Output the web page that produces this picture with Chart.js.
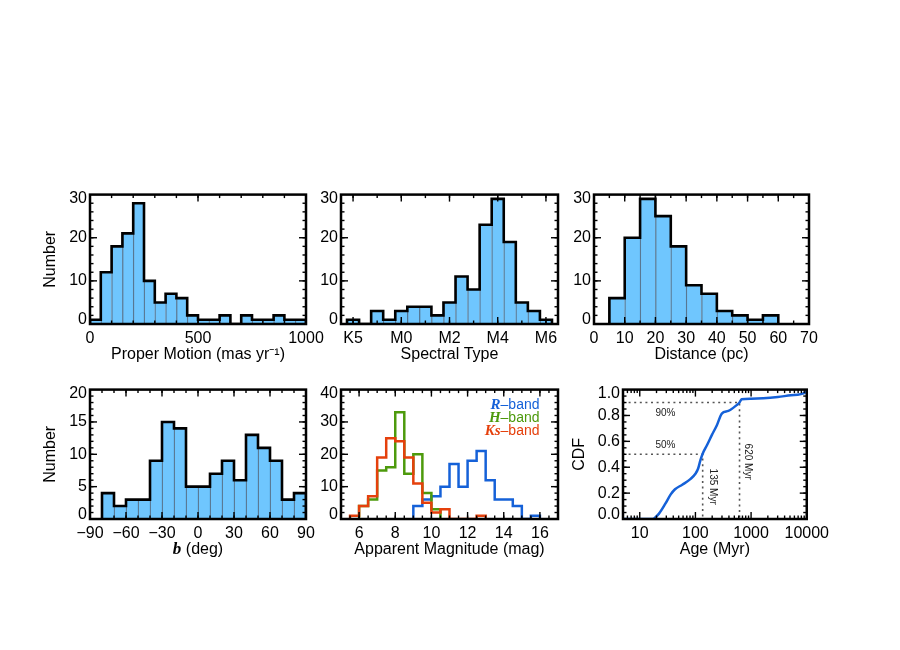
<!DOCTYPE html>
<html>
<head>
<meta charset="utf-8">
<script src="https://cdn.jsdelivr.net/npm/chart.js@4.4.1/dist/chart.umd.min.js"></script>
<style>
  body { margin: 0; background: #fff; width: 900px; height: 650px; position: relative; overflow: hidden; }
  canvas { position: absolute; }
</style>
</head>
<body>
<canvas id="pm"></canvas>
<canvas id="spt"></canvas>
<canvas id="dist"></canvas>
<canvas id="gal"></canvas>
<canvas id="mag"></canvas>
<canvas id="age"></canvas>
<script>
const SANS = "'Liberation Sans', Arial, Helvetica, sans-serif";
const SERIF = "'Liberation Serif', 'Times New Roman', serif";
const FILL = '#6fc6fe';
const DIVIDER = 'rgba(35,75,110,0.75)';
const BLUE = '#1561d8', GREEN = '#4d9a0c', RED = '#e5400c';

// proper motion histogram (bin left edges, 50 mas/yr wide)
const pmBins = [0, 50, 100, 150, 200, 250, 300, 350, 400, 450, 500, 550, 600, 650, 700, 750, 800, 850, 900, 950];
const pmCounts = [1, 12, 18, 21, 28, 10, 5, 7, 6, 2, 1, 1, 2, 0, 2, 1, 1, 2, 1, 1];
const pmTicks = [0, 500, 1000];
const pmTickLabels = ['0', '500', '1000'];

// spectral type (M0 = 0, half-subtype bins)
const sptBins = [-2.25, -1.75, -1.25, -0.75, -0.25, 0.25, 0.75, 1.25, 1.75, 2.25, 2.75, 3.25, 3.75, 4.25, 4.75, 5.25, 5.75];
const sptCounts = [1, 0, 3, 1, 3, 4, 4, 2, 5, 11, 8, 23, 29, 19, 5, 3, 1];
const sptTicks = [-2, 0, 2, 4, 6];
const sptTickLabels = ['K5', 'M0', 'M2', 'M4', 'M6'];

// distance (pc)
const distBins = [0, 5, 10, 15, 20, 25, 30, 35, 40, 45, 50, 55, 60, 65];
const distCounts = [0, 6, 20, 29, 25, 18, 9, 7, 3, 2, 1, 2, 0, 0];
const distTicks = [0, 10, 20, 30, 40, 50, 60, 70];
const distTickLabels = ['0', '10', '20', '30', '40', '50', '60', '70'];

// galactic latitude b (deg)
const bBins = [-90, -80, -70, -60, -50, -40, -30, -20, -10, 0, 10, 20, 30, 40, 50, 60, 70, 80];
const bCounts = [0, 4, 2, 3, 3, 9, 15, 14, 5, 5, 7, 9, 6, 13, 11, 9, 3, 4];
const bTicks = [-90, -60, -30, 0, 30, 60, 90];
const bTickLabels = ['\u221290', '\u221260', '\u221230', '0', '30', '60', '90'];

// apparent magnitudes
const magBins = [5, 5.5, 6, 6.5, 7, 7.5, 8, 8.5, 9, 9.5, 10, 10.5, 11, 11.5, 12, 12.5, 13, 13.5, 14, 14.5, 15, 15.5, 16, 16.5];
const rCounts = [0, 0, 0, 0, 0, 0, 0, 0, 4, 6, 7, 10, 17, 10, 18, 21, 12, 6, 6, 4, 0, 1, 0, 0];
const hCounts = [0, 0, 4, 6, 15, 16, 33, 14, 20, 8, 3, 0, 0, 0, 0, 0, 0, 0, 0, 0, 0, 0, 0, 0];
const ksCounts = [0, 1, 4, 7, 19, 25, 24, 19, 11, 5, 2, 3, 0, 0, 0, 1, 0, 0, 0, 0, 0, 0, 0, 0];
const bandNames = ['R', 'H', 'Ks'];
const magTicks = [6, 8, 10, 12, 14, 16];
const magTickLabels = ['6', '8', '10', '12', '14', '16'];

// age CDF
const ageMyr = [5, 17, 22, 29, 36, 43, 58, 82, 100, 112, 123, 135, 161, 198, 243, 298, 391, 550, 620, 675, 1014, 3020, 5200, 9600, 10000];
const cdfVals = [0, 0, 0.04, 0.12, 0.19, 0.23, 0.265, 0.31, 0.35, 0.39, 0.455, 0.505, 0.57, 0.65, 0.725, 0.815, 0.835, 0.88, 0.9, 0.925, 0.93, 0.943, 0.956, 0.98, 0.995];
const pctLevels = [0.5, 0.9];
const pctAges = [135, 620];
const pctLabels = ['50%', '90%'];
const ageLabels = ['135 Myr', '620 Myr'];
const ageTicks = [10, 100, 1000, 10000];
const ageTickLabels = ['10', '100', '1000', '10000'];
const cdfTicks = [0, 0.2, 0.4, 0.6, 0.8, 1.0];
const cdfTickLabels = ['0.0', '0.2', '0.4', '0.6', '0.8', '1.0'];

const n30Ticks = [0, 10, 20, 30];
const n30Labels = ['0', '10', '20', '30'];

function steps(min, max, step) {
  const out = [];
  for (let v = Math.ceil(min / step - 1e-9) * step; v <= max + 1e-9; v += step) out.push(+v.toFixed(6));
  return out;
}
function logMinors(lo, hi) {
  const out = [];
  for (let d = 1; d < hi; d *= 10) for (let k = 2; k <= 9; k++) if (k * d >= lo && k * d <= hi) out.push(k * d);
  return out;
}

function outline(lefts, width, counts) {
  let a = counts.findIndex(c => c > 0), b = counts.length - 1;
  while (b > 0 && counts[b] === 0) b--;
  const pts = [{x: lefts[a], y: 0}];
  for (let i = a; i <= b; i++) pts.push({x: lefts[i], y: counts[i]}, {x: lefts[i] + width, y: counts[i]});
  pts.push({x: lefts[b] + width, y: 0});
  return pts;
}

function stepLine(data, color, width, order) {
  return {type: 'line', data, borderColor: color, borderWidth: width, pointRadius: 0, tension: 0,
          fill: false, order, borderJoinStyle: 'miter', borderCapStyle: 'butt'};
}

function histDatasets(lefts, width, counts) {
  const bars = lefts.map((l, i) => ({x: l + width / 2, y: counts[i]}));
  return [
    stepLine(outline(lefts, width, counts), '#000', 2.6, 0),
    {type: 'bar', data: bars, backgroundColor: FILL, borderColor: DIVIDER,
     borderWidth: {left: 1.3, right: 0, top: 0, bottom: 0}, borderSkipped: false,
     barPercentage: 1, categoryPercentage: 1, order: 1}
  ];
}

function richText(ctx, parts, x, y, align) {
  let total = 0;
  parts.forEach(p => { ctx.font = p.font; p.w = ctx.measureText(p.text).width; total += p.w; });
  let cx = align === 'right' ? x - total : align === 'center' ? x - total / 2 : x;
  ctx.textAlign = 'left';
  ctx.textBaseline = 'middle';
  parts.forEach(p => { ctx.font = p.font; ctx.fillStyle = p.color; ctx.fillText(p.text, cx, y); cx += p.w; });
}

function deco(cfg) {
  return {
    id: 'deco',
    afterDatasetsDraw(chart) {
      const {ctx, chartArea: a} = chart;
      const xs = chart.scales.x, ys = chart.scales.y;
      ctx.save();
      ctx.strokeStyle = '#000';
      ctx.lineWidth = 1.4;
      const seg = (x1, y1, x2, y2) => { ctx.beginPath(); ctx.moveTo(x1, y1); ctx.lineTo(x2, y2); ctx.stroke(); };
      const xTick = (v, len) => {
        const p = xs.getPixelForValue(v);
        if (p < a.left + 1.5 || p > a.right - 1.5) return;
        seg(p, a.bottom, p, a.bottom - len); seg(p, a.top, p, a.top + len);
      };
      const yTick = (v, len) => {
        const p = ys.getPixelForValue(v);
        if (p < a.top + 1.5 || p > a.bottom - 1.5) return;
        seg(a.left, p, a.left + len, p); seg(a.right, p, a.right - len, p);
      };
      cfg.x.minor.forEach(v => xTick(v, 3.5));
      cfg.x.ticks.forEach(v => xTick(v, 7));
      cfg.y.minor.forEach(v => yTick(v, 3.5));
      cfg.y.ticks.forEach(v => yTick(v, 7));
      ctx.lineWidth = 2.5;
      ctx.strokeRect(a.left, a.top, a.right - a.left, a.bottom - a.top);
      ctx.restore();
      if (cfg.extra) { ctx.save(); cfg.extra(chart); ctx.restore(); }
    }
  };
}

function panel(id, area, cfg) {
  const L = cfg.y.title ? 55 : 35, T = 12, R = 25, B = 45;
  const cv = document.getElementById(id);
  cv.width = L + area.w + R;
  cv.height = T + area.h + B;
  cv.style.left = (area.x - L) + 'px';
  cv.style.top = (area.y - T) + 'px';

  const mkScale = (ax, isX) => ({
    type: ax.type || 'linear',
    min: ax.min, max: ax.max, offset: false,
    grid: {display: false, drawTicks: false},
    border: {display: false},
    afterBuildTicks: s => {
      // end labels of the y axes sit a little inside the frame, as in the original
      const d = isX ? 0 : 4.5 / area.h * (ax.max - ax.min);
      s.ticks = ax.ticks.map(v => ({value: v === ax.max ? v - d : v === ax.min ? v + d : v}));
    },
    afterFit: s => { if (isX) s.height = B; else s.width = L; },
    ticks: {font: {family: SANS, size: 16}, color: '#000', padding: isX ? 5 : 3,
            maxRotation: 0, autoSkip: false, callback: (v, i) => ax.labels[i]},
    title: {display: !!ax.title, text: ax.title || '', color: '#000',
            font: {family: SANS, size: 16},
            padding: isX ? {top: 0, bottom: 4.4} : {top: ax.titlePad || 5.9, bottom: 0}}
  });

  return new Chart(cv, {
    type: cfg.type || 'bar',
    data: {datasets: cfg.datasets},
    options: {
      responsive: false, animation: false, events: [],
      devicePixelRatio: 1,
      layout: {padding: {left: 0, top: T, right: R, bottom: 0}},
      plugins: {legend: {display: false}, tooltip: {enabled: false}},
      scales: {x: mkScale(cfg.x, true), y: mkScale(cfg.y, false)}
    },
    plugins: [deco(cfg)]
  });
}

// ---- row 1 ----
panel('pm', {x: 90, y: 194, w: 216, h: 130}, {
  datasets: histDatasets(pmBins, 50, pmCounts),
  x: {min: 0, max: 1000, ticks: pmTicks, labels: pmTickLabels, minor: steps(0, 1000, 100),
      title: 'Proper Motion (mas yr\u207B\u00B9)'},
  y: {min: 0, max: 30, ticks: n30Ticks, labels: n30Labels, minor: steps(0, 30, 2), title: 'Number'}
});

panel('spt', {x: 341, y: 194, w: 217, h: 130}, {
  datasets: histDatasets(sptBins, 0.5, sptCounts),
  x: {min: -2.5, max: 6.5, ticks: sptTicks, labels: sptTickLabels, minor: steps(-2.5, 6.5, 1), title: 'Spectral Type'},
  y: {min: 0, max: 30, ticks: n30Ticks, labels: n30Labels, minor: steps(0, 30, 2)}
});

panel('dist', {x: 594, y: 194, w: 215, h: 130}, {
  datasets: histDatasets(distBins, 5, distCounts),
  x: {min: 0, max: 70, ticks: distTicks, labels: distTickLabels, minor: steps(0, 70, 5), title: 'Distance (pc)'},
  y: {min: 0, max: 30, ticks: n30Ticks, labels: n30Labels, minor: steps(0, 30, 2)}
});

// ---- row 2 ----
panel('gal', {x: 90, y: 389, w: 216, h: 130}, {
  datasets: histDatasets(bBins, 10, bCounts),
  x: {min: -90, max: 90, ticks: bTicks, labels: bTickLabels, minor: steps(-90, 90, 10)},
  y: {min: 0, max: 20, ticks: [0, 5, 10, 15, 20], labels: ['0', '5', '10', '15', '20'], minor: steps(0, 20, 1), title: 'Number'},
  extra(chart) {
    const a = chart.chartArea;
    richText(chart.ctx, [
      {text: 'b', font: 'bold italic 17px ' + SERIF, color: '#000'},
      {text: ' (deg)', font: '16px ' + SANS, color: '#000'}
    ], (a.left + a.right) / 2, a.bottom + 31, 'center');
  }
});

const bandColors = [BLUE, GREEN, RED];
panel('mag', {x: 341, y: 389, w: 217, h: 130}, {
  type: 'line',
  datasets: [
    stepLine(outline(magBins, 0.5, rCounts), BLUE, 2.5, 2),
    stepLine(outline(magBins, 0.5, hCounts), GREEN, 2.5, 1),
    stepLine(outline(magBins, 0.5, ksCounts), RED, 2.5, 0)
  ],
  x: {min: 5, max: 17, ticks: magTicks, labels: magTickLabels, minor: steps(5, 17, 0.5), title: 'Apparent Magnitude (mag)'},
  y: {min: 0, max: 40, ticks: [0, 10, 20, 30, 40], labels: ['0', '10', '20', '30', '40'], minor: steps(0, 40, 2)},
  extra(chart) {
    const a = chart.chartArea;
    bandNames.forEach((name, i) => {
      richText(chart.ctx, [
        {text: name, font: 'bold italic 15px ' + SERIF, color: bandColors[i]},
        {text: '\u2013band', font: '14px ' + SANS, color: bandColors[i]}
      ], a.right - 18.5, a.top + 16 + i * 13, 'right');
    });
  }
});

const ageMin = 5;
const refLines = pctLevels.map((lvl, i) => ({
  type: 'line',
  data: [{x: ageMin, y: lvl}, {x: pctAges[i], y: lvl}, {x: pctAges[i], y: 0}],
  borderColor: '#555', borderWidth: 1.6, borderDash: [2, 3.6], pointRadius: 0, tension: 0, fill: false, order: 1
}));
const pctLabelY = [0.572, 0.815];
const ageLabelY = [0.25, 0.443];
const ageLabelDx = [10, 8];

panel('age', {x: 623, y: 389, w: 186, h: 130}, {
  type: 'line',
  datasets: [
    {type: 'line', data: ageMyr.map((a, i) => ({x: a, y: cdfVals[i]})), borderColor: BLUE, borderWidth: 2.5,
     pointRadius: 0, cubicInterpolationMode: 'monotone', fill: false, order: 0},
    ...refLines
  ],
  x: {type: 'logarithmic', min: ageMin, max: 10000, ticks: ageTicks, labels: ageTickLabels, minor: logMinors(ageMin, 10000), title: 'Age (Myr)'},
  y: {min: 0, max: 1, ticks: cdfTicks, labels: cdfTickLabels, minor: steps(0, 1, 0.05), title: 'CDF', titlePad: 1.7},
  extra(chart) {
    const ctx = chart.ctx, xs = chart.scales.x, ys = chart.scales.y;
    ctx.fillStyle = '#222';
    ctx.font = '10px ' + SANS;
    ctx.textAlign = 'center';
    ctx.textBaseline = 'middle';
    pctLabels.forEach((t, i) => ctx.fillText(t, xs.getPixelForValue(29), ys.getPixelForValue(pctLabelY[i])));
    ageLabels.forEach((t, i) => {
      ctx.save();
      ctx.translate(xs.getPixelForValue(pctAges[i]) + ageLabelDx[i], ys.getPixelForValue(ageLabelY[i]));
      ctx.rotate(Math.PI / 2);
      ctx.fillText(t, 0, 0);
      ctx.restore();
    });
  }
});
</script>
</body>
</html>
